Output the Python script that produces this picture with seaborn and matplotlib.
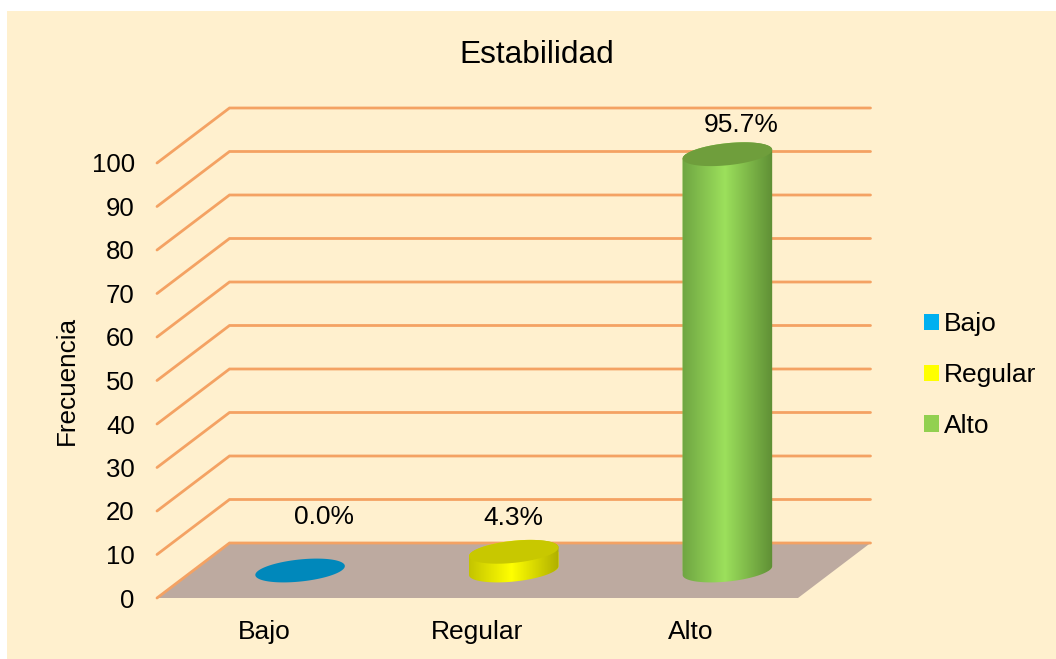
import numpy as np
import pandas as pd
import matplotlib.pyplot as plt
import seaborn as sns
from matplotlib.colors import LinearSegmentedColormap
from matplotlib.patches import Polygon, Rectangle

# datos
categorias = ['Bajo', 'Regular', 'Alto']
valores = [0.0, 4.3, 95.7]
etiquetas = ['0.0%', '4.3%', '95.7%']
ticks_y = [0, 10, 20, 30, 40, 50, 60, 70, 80, 90, 100]

# colores
colores = ['#00B0F0', '#FFFF00', '#92D050']
colores_tapa = ['#0088BB', '#C8C800', '#6F9E3C']
colores_brillo = ['#00B0F0', '#FFFF00', '#9CE05C']
colores_izq = ['#007AA8', '#C4C400', '#6FA542']
colores_der = ['#007AA8', '#B0B000', '#5F8F35']
fondo = '#FFF0CE'
naranja = '#F4A263'
piso = '#BDAAA0'

W, H = 1056, 659
PX_X = 641 / 3.0      # pixeles por categoria
PX_Y = 4.35           # pixeles por unidad
FONDO_X, FONDO_Y = 72.5, 55.0   # profundidad en pixeles

sns.set_theme(style='white')
plt.rcParams['font.family'] = ['Liberation Sans', 'DejaVu Sans']
plt.rcParams['text.color'] = 'black'
plt.rcParams['axes.labelcolor'] = 'black'
plt.rcParams['xtick.color'] = 'black'
plt.rcParams['ytick.color'] = 'black'


def caja(izq, arriba, der, abajo):
    return [izq / W, 1 - abajo / H, (der - izq) / W, (abajo - arriba) / H]


def elipse(x, y, t, a=45, b=11, giro=6):
    g = np.deg2rad(giro)
    px = a * np.cos(t) * np.cos(g) - b * np.sin(t) * np.sin(g)
    py = a * np.cos(t) * np.sin(g) + b * np.sin(t) * np.cos(g)
    return np.column_stack([x + px / PX_X, y + py / PX_Y])


fig = plt.figure(figsize=(W / 100, H / 100), dpi=100, facecolor='white')
fig.patches.append(Rectangle((7 / W, 0), 1 - 7 / W, 1 - 11 / H, transform=fig.transFigure,
                             facecolor=fondo, edgecolor='none', zorder=-5))

# plano frontal: ejes, piso y rejilla
ax = fig.add_axes(caja(157, 163, 798, 598))
ax.patch.set_alpha(0)
ax.set_xlim(-0.5, 2.5)
ax.set_ylim(0, 100)
dx, dy = FONDO_X / PX_X, FONDO_Y / PX_Y
ax.add_patch(Polygon([(-0.5, 0), (2.5, 0), (2.5 + dx, dy), (-0.5 + dx, dy)],
                     facecolor=piso, edgecolor='none', clip_on=False, zorder=1))
for v in ticks_y:
    ax.plot([-0.5, -0.5 + dx, 2.5 + dx], [v, v + dy, v + dy], color=naranja, lw=2.0,
            clip_on=False, zorder=2, solid_joinstyle='miter')
ax.set_xticks(range(len(categorias)), labels=categorias)
ax.set_yticks(ticks_y)
ax.tick_params(axis='x', length=0, pad=16, labelsize=19)
ax.tick_params(axis='y', length=0, pad=16, labelsize=18.5)
ax.set_ylabel('Frecuencia', fontsize=18.8, labelpad=9)
sns.despine(ax=ax, left=True, bottom=True)

# cilindros: ejes corridos media profundidad
ax2 = fig.add_axes(caja(157 + FONDO_X / 2, 570.5 - 112 * PX_Y, 798 + FONDO_X / 2, 570.5 + 8 * PX_Y))
ax2.patch.set_alpha(0)
df = pd.DataFrame({'categoria': categorias, 'valor': valores})
sns.barplot(data=df, x='categoria', y='valor', hue='categoria', palette=colores, hue_order=categorias,
            order=categorias, width=90 / PX_X, dodge=False, legend=True, ax=ax2, saturation=1, zorder=3,
            linewidth=0, edgecolor='none')

barras = [b for c in ax2.containers for b in c]
t_abajo = np.linspace(np.pi, 2 * np.pi, 60)
t_arriba = np.linspace(0, np.pi, 60)
t_todo = np.linspace(0, 2 * np.pi, 120)
for i, v in enumerate(valores):
    if v > 0:
        cuerpo = np.vstack([elipse(i, 0, t_abajo), elipse(i, v, t_arriba)])
        cmap = LinearSegmentedColormap.from_list('c', [(0, colores_izq[i]), (0.47, colores_brillo[i]), (1, colores_der[i])])
        img = ax2.imshow(np.linspace(0, 1, 128)[None, :], cmap=cmap, aspect='auto', zorder=4,
                         extent=[i - 45 / PX_X, i + 45 / PX_X, -8, v + 8])
        img.set_clip_path(Polygon(cuerpo, transform=ax2.transData))
        barras[i].set_clip_path(Polygon(cuerpo, transform=ax2.transData))
    else:
        barras[i].set_visible(False)
    ax2.add_patch(Polygon(elipse(i, v, t_todo), facecolor=colores_tapa[i], edgecolor='none', zorder=5))

offsets = [(24, 54), (0, 34), (14, 29)]
for i, v in enumerate(valores):
    ax2.annotate(etiquetas[i], (i, v), xytext=(offsets[i][0] * 0.72, offsets[i][1] * 0.72),
                 textcoords='offset points', ha='center', va='center', fontsize=19, zorder=6)

ax2.set_xlim(-0.5, 2.5)
ax2.set_ylim(-8, 112)
ax2.axis('off')

leg = ax2.legend(loc='center left', bbox_to_anchor=(923.5 / W, 1 - 375 / H), bbox_transform=fig.transFigure,
                 frameon=False, fontsize=19, handlelength=0.57, handleheight=0.57, handletextpad=0.22,
                 labelspacing=1.02, borderpad=0, borderaxespad=0, title=None)

fig.text(537 / W, 1 - 55 / H, 'Estabilidad', ha='center', va='center', fontsize=22.8)

plt.savefig('out.png', dpi=100, facecolor='white')
